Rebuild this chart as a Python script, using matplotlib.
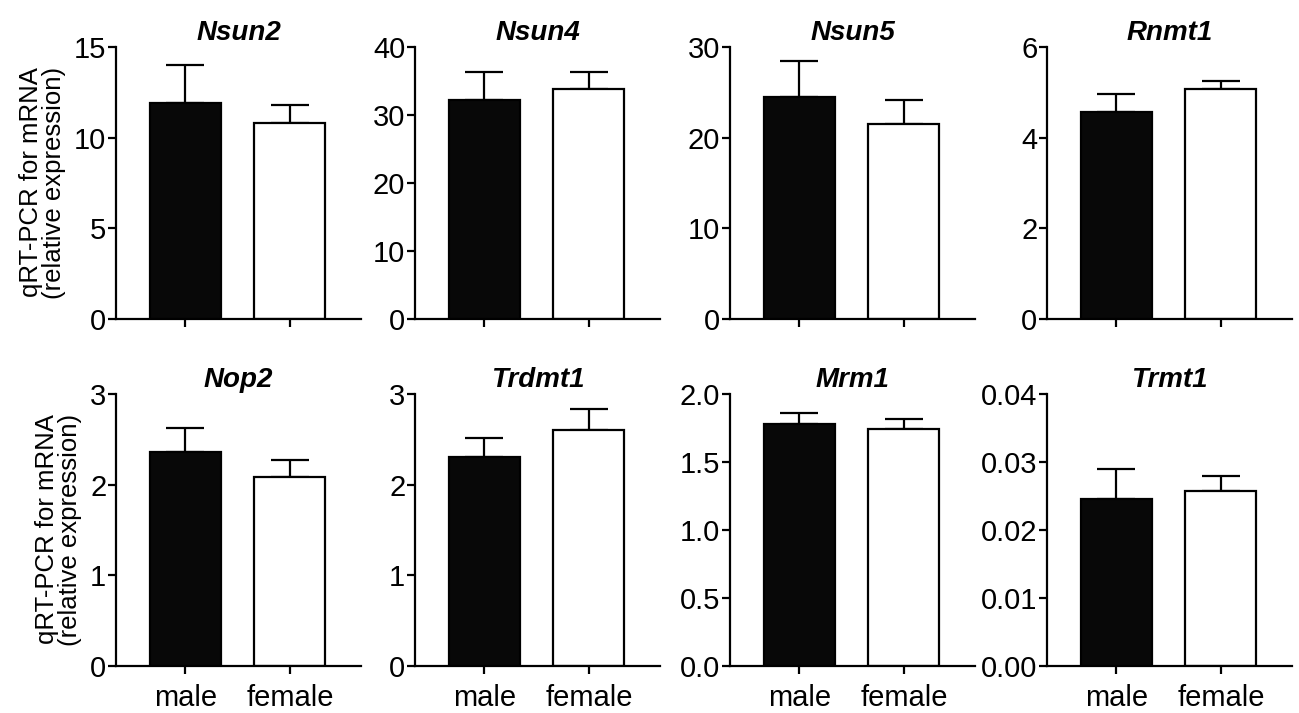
import matplotlib
matplotlib.use('Agg')
import matplotlib.pyplot as plt
from matplotlib.ticker import MultipleLocator, FormatStrFormatter

plt.rcParams['font.family'] = ['Liberation Sans', 'DejaVu Sans']

genes = ['Nsun2', 'Nsun4', 'Nsun5', 'Rnmt1', 'Nop2', 'Trdmt1', 'Mrm1', 'Trmt1']
groups = ['male', 'female']
male_mean = [11.93, 32.2, 24.5, 4.57, 2.36, 2.30, 1.78, 0.0245]
male_top = [14.0, 36.3, 28.5, 4.96, 2.63, 2.51, 1.86, 0.0290]
female_mean = [10.79, 33.8, 21.5, 5.08, 2.09, 2.60, 1.74, 0.0258]
female_top = [11.78, 36.3, 24.1, 5.25, 2.27, 2.84, 1.815, 0.0279]
y_max = [15, 40, 30, 6, 3, 3, 2, 0.04]
y_step = [5, 10, 10, 2, 1, 1, 0.5, 0.01]
y_fmt = ['%d', '%d', '%d', '%d', '%d', '%d', '%.1f', '%.2f']

fig = plt.figure(figsize=(12.99, 7.13), dpi=100)

col_left = [116, 415, 730, 1047]
row_top = [47, 394]
W, H = 1299, 713

for i, gene in enumerate(genes):
    r, c = divmod(i, 4)
    ax = fig.add_axes([col_left[c] / W, (H - row_top[r] - 272) / H, 245 / W, 272 / H])
    means = [male_mean[i], female_mean[i]]
    errs = [male_top[i] - male_mean[i], female_top[i] - female_mean[i]]
    ax.errorbar([0, 1], means, yerr=[[0, 0], errs], fmt='none', ecolor='black',
                elinewidth=1.6, capsize=14, capthick=1.6, zorder=1)
    ax.bar([0, 1], means, width=0.68, color=['#080808', 'white'],
           edgecolor='black', linewidth=1.6, zorder=2)
    ax.set_xlim(-0.665, 1.68)
    ax.set_ylim(0, y_max[i])
    ax.yaxis.set_major_locator(MultipleLocator(y_step[i]))
    ax.yaxis.set_major_formatter(FormatStrFormatter(y_fmt[i]))
    ax.set_xticks([0, 1])
    if r == 1:
        ax.set_xticklabels(groups)
    else:
        ax.set_xticklabels(['', ''])
    for s in ['top', 'right']:
        ax.spines[s].set_visible(False)
    for s in ['left', 'bottom']:
        ax.spines[s].set_linewidth(1.6)
    ax.tick_params(axis='both', width=1.6, length=6, labelsize=21, pad=1)
    ax.tick_params(axis='x', pad=7)
    ax.set_title(gene, fontsize=20, fontweight='bold', fontstyle='italic', pad=5)
    if c == 0:
        ax.set_ylabel('qRT-PCR for mRNA\n(relative expression)', fontsize=18.5,
                      linespacing=0.95, multialignment='right', labelpad=6)

fig.savefig('out.png', dpi=100)
